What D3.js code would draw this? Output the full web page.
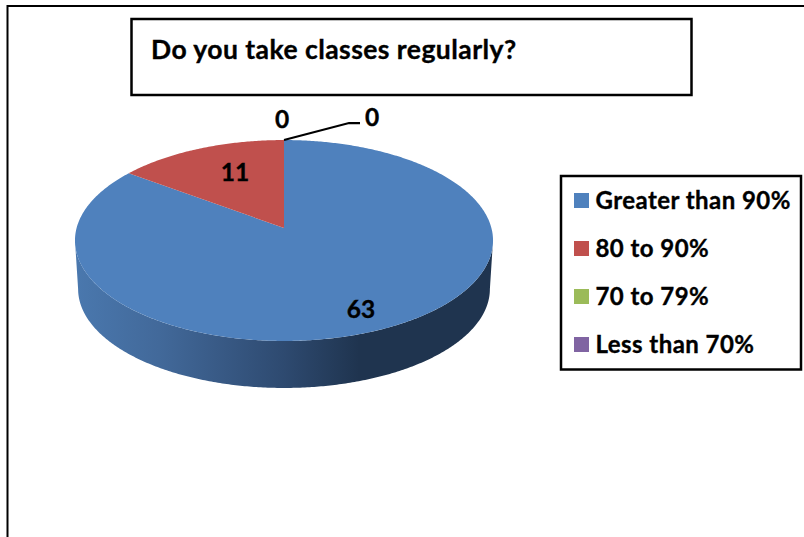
<!DOCTYPE html>
<html><head><meta charset="utf-8">
<script src="https://cdn.jsdelivr.net/npm/d3@7"></script>
<style>html,body{margin:0;padding:0;background:#fff}svg{display:block}text{font-family:Lato,"Open Sans",sans-serif;font-weight:700;fill:#000;stroke:#000;stroke-width:0.35px}</style>
</head><body><svg id="c" width="804" height="537"></svg>
<script>
const title = "Do you take classes regularly?";
const categories = ["Greater than 90%", "80 to 90%", "70 to 79%", "Less than 70%"];
const values = [63, 11, 0, 0];
const colors = ["#4f81bd", "#c0504d", "#9bbb59", "#8064a2"];

const svg = d3.select("#c");

// Projective map of the tilted disc (u right, v away from the viewer, both -1..1)
const k = 0.1244, cx = 284, cy = 228, a = 207.4, c = 98.9;
const px = d3.scaleLinear().domain([-1, 1]).range([cx - a, cx + a]);
const py = d3.scaleLinear().domain([-1, 1]).range([cy + c, cy - c]);
function project(ang, s = 1, dy = 0) {
  const u = Math.sin(ang), v = Math.cos(ang), w = 1 + k * v;
  return [cx + (px(u / w) - cx) * s, cy + dy + (py(v / w) - cy) * s];
}
function rim(a0, a1, s = 1, dy = 0) {
  const n = Math.max(2, Math.ceil(Math.abs(a1 - a0) / 0.01));
  return d3.range(n + 1).map(i => project(a0 + (a1 - a0) * i / n, s, dy));
}
const line = d3.line();
const slices = d3.pie().sort(null).value(d => d)(values);

// outer frame: runs off the right and bottom edges
svg.append("path").attr("d", "M7.5,537V6H804").attr("fill", "none").attr("stroke", "#000").attr("stroke-width", 2);

// title box
svg.append("rect").attr("x", 131.5).attr("y", 19).attr("width", 560).attr("height", 76)
  .attr("fill", "#fff").attr("stroke", "#000").attr("stroke-width", 2.5);
svg.append("text").attr("x", 151).attr("y", 59).attr("font-size", 26.5).attr("letter-spacing", 0.45).text(title);

// wall gradient
const defs = svg.append("defs");
const g = defs.append("linearGradient").attr("id", "wall").attr("gradientUnits", "userSpaceOnUse")
  .attr("x1", 75).attr("x2", 493).attr("y1", 0).attr("y2", 0);
[[0, "#4a78ae"], [0.2, "#42699a"], [0.5, "#2e4a70"], [0.68, "#1f344f"], [1, "#1f344f"]]
  .forEach(([o, col]) => g.append("stop").attr("offset", o).attr("stop-color", col));

// wall: visible lower half of the rim
const depth = 48.7, shrink = 0.985;
const aR = Math.PI / 2 + Math.asin(k), aL = 3 * Math.PI / 2 - Math.asin(k);
const wall = rim(aR, aL).concat(rim(aL, aR, shrink, depth));
svg.append("path").attr("d", line(wall) + "Z").attr("fill", "url(#wall)");

// top face
svg.selectAll("path.slice").data(slices.filter(d => d.value > 0)).join("path")
  .attr("class", "slice")
  .attr("d", d => line([[cx, cy], ...rim(d.startAngle, d.endAngle)]) + "Z")
  .attr("fill", d => colors[d.index]);

// leader line for the zero slices
const rimTop = project(0);
svg.append("path").attr("d", line([rimTop, [rimTop[0] + 65, rimTop[1] - 17], [rimTop[0] + 76, rimTop[1] - 17]]))
  .attr("fill", "none").attr("stroke", "#000").attr("stroke-width", 2.2);

// data labels
const labelPos = [[361, 318], [235, 181], [282, 128], [372, 126]];
svg.selectAll("text.lab").data(values).join("text").attr("class", "lab")
  .attr("x", (d, i) => labelPos[i][0]).attr("y", (d, i) => labelPos[i][1])
  .attr("text-anchor", "middle").attr("font-size", 24.5).text(d => d);

// legend
svg.append("rect").attr("x", 561).attr("y", 176).attr("width", 240).attr("height", 193.5)
  .attr("fill", "#fff").attr("stroke", "#000").attr("stroke-width", 2.5);
const ly = d3.scalePoint().domain(categories).range([200.5, 344.5]);
const items = svg.selectAll("g.leg").data(categories).join("g").attr("class", "leg");
items.append("rect").attr("x", 574).attr("y", d => ly(d) - 7.5).attr("width", 15).attr("height", 15)
  .attr("fill", (d, i) => colors[i]);
items.append("text").attr("x", 595.5).attr("y", d => ly(d) + 8.5).attr("font-size", 24).attr("letter-spacing", 0.45).text(d => d);
</script></body></html>
